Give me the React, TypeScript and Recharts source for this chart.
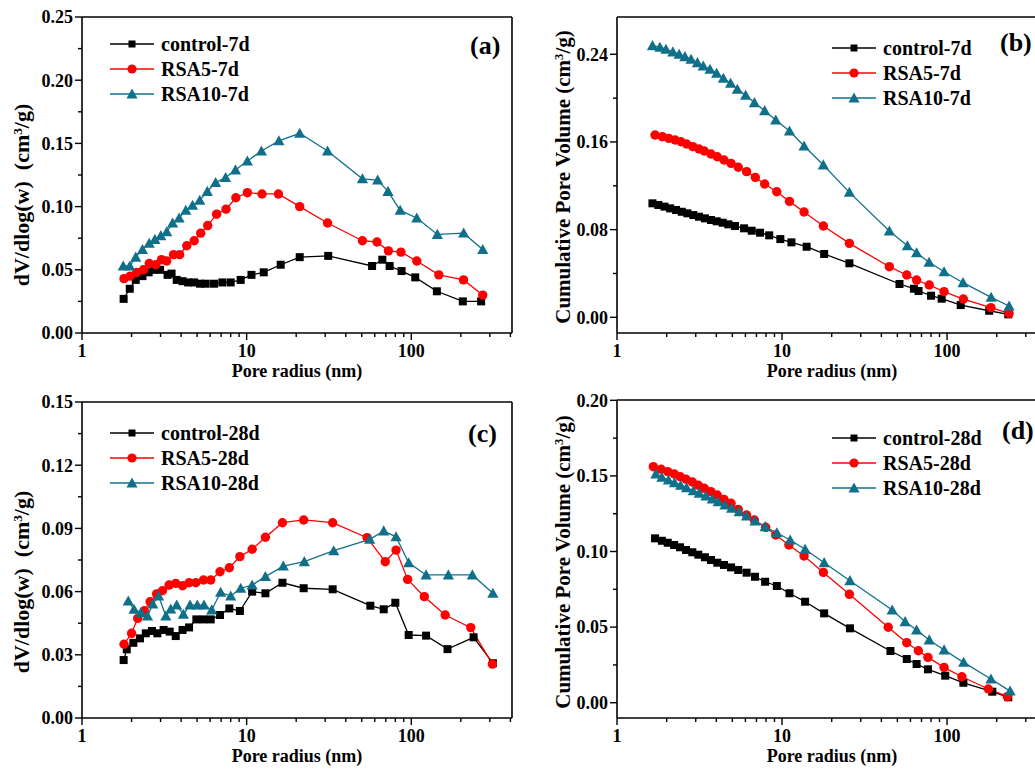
import React from 'react';
import { LineChart, Line, XAxis, YAxis } from 'recharts';

type Pt = [number, number];

// Panel (a): dV/dlog(w), 7 d
const aControl: Pt[] = [[1.79,0.027],[1.95,0.035],[2.12,0.042],[2.33,0.045],[2.54,0.048],[2.74,0.050],[2.98,0.050],[3.31,0.046],[3.5,0.047],[3.76,0.042],[4.08,0.041],[4.41,0.040],[4.8,0.040],[5.21,0.039],[5.64,0.039],[6.34,0.039],[7.12,0.040],[8.0,0.040],[9.2,0.042],[10.7,0.046],[12.7,0.048],[16.1,0.054],[21,0.060],[31.3,0.061],[57.8,0.053],[66.7,0.058],[73.9,0.053],[87.3,0.049],[105.7,0.044],[143,0.033],[205.6,0.025],[265.6,0.025]];
const aRSA5: Pt[] = [[1.8,0.043],[1.96,0.045],[2.15,0.048],[2.36,0.050],[2.56,0.055],[2.81,0.054],[3.04,0.058],[3.27,0.057],[3.6,0.062],[3.92,0.062],[4.33,0.069],[4.8,0.073],[5.26,0.079],[5.8,0.085],[6.57,0.094],[7.5,0.098],[8.6,0.107],[10.1,0.111],[12.4,0.110],[15.6,0.110],[21,0.100],[31,0.087],[50.5,0.073],[61.9,0.072],[72.6,0.065],[86.5,0.064],[108,0.057],[147,0.046],[207.6,0.042],[271.6,0.030]];
const aRSA10: Pt[] = [[1.78,0.053],[1.95,0.053],[2.12,0.060],[2.33,0.066],[2.56,0.071],[2.77,0.074],[3.01,0.077],[3.27,0.080],[3.55,0.087],[3.89,0.091],[4.27,0.097],[4.69,0.101],[5.19,0.105],[5.77,0.112],[6.48,0.119],[7.45,0.123],[8.55,0.129],[10.1,0.136],[12.3,0.144],[15.7,0.152],[21,0.158],[31,0.144],[50.5,0.122],[62.5,0.121],[72.2,0.112],[85.6,0.097],[108,0.091],[144,0.078],[208,0.079],[271.6,0.066]];

// Panel (b): cumulative pore volume, 7 d
const bControl: Pt[] = [[1.64,0.104],[1.78,0.1025],[1.94,0.101],[2.1,0.0994],[2.28,0.0979],[2.47,0.0963],[2.67,0.0949],[2.9,0.0933],[3.14,0.0918],[3.41,0.0903],[3.71,0.0888],[4.02,0.0876],[4.37,0.0863],[4.73,0.0848],[5.19,0.0833],[5.89,0.0812],[6.55,0.079],[7.36,0.0772],[8.36,0.0748],[9.77,0.0714],[11.4,0.0684],[14.1,0.0644],[18,0.0578],[25.6,0.0493],[51.5,0.0304],[63,0.0261],[67.2,0.024],[80,0.0197],[92.8,0.017],[121,0.0112],[180,0.006],[235,0.0027]];
const bRSA5: Pt[] = [[1.70,0.1663],[1.88,0.1648],[2.06,0.1633],[2.25,0.1618],[2.44,0.1602],[2.64,0.1581],[2.88,0.1557],[3.14,0.1536],[3.38,0.1517],[3.71,0.149],[4.05,0.1465],[4.45,0.1435],[4.91,0.1405],[5.43,0.1369],[6.1,0.1329],[6.89,0.1277],[7.85,0.1216],[9.29,0.1146],[11.1,0.1058],[13.6,0.0961],[17.8,0.0833],[25.6,0.0675],[44.7,0.0462],[57,0.0386],[65.4,0.034],[78,0.0295],[95.9,0.0234],[125.6,0.0167],[184.5,0.0088],[237.6,0.0036]];
const bRSA10: Pt[] = [[1.64,0.2478],[1.82,0.2464],[1.98,0.2445],[2.18,0.2421],[2.38,0.24],[2.58,0.2378],[2.81,0.2354],[3.07,0.2323],[3.33,0.2293],[3.66,0.2263],[4.02,0.2226],[4.41,0.2181],[4.88,0.2135],[5.36,0.208],[6.02,0.2026],[6.8,0.1958],[7.85,0.1885],[9.16,0.18],[11.1,0.17],[13.6,0.1563],[17.8,0.139],[25.6,0.114],[44.7,0.0787],[57.5,0.0653],[65.4,0.0589],[77.8,0.0502],[95.9,0.0416],[125,0.0316],[185,0.0182],[237.6,0.0103]];

// Panel (c): dV/dlog(w), 28 d
const cControl: Pt[] = [[1.79,0.0275],[1.87,0.0326],[2.05,0.0357],[2.25,0.0378],[2.44,0.0402],[2.66,0.0413],[2.87,0.0402],[3.13,0.0418],[3.41,0.041],[3.71,0.0389],[4.08,0.0418],[4.47,0.043],[4.95,0.0468],[5.47,0.0468],[6.05,0.0468],[6.89,0.0489],[7.85,0.052],[9.1,0.0508],[10.8,0.06],[13,0.0592],[16.5,0.0642],[22.2,0.0616],[33.3,0.0611],[56.4,0.0533],[68,0.0516],[80,0.0547],[96.4,0.0394],[123,0.0391],[166,0.0327],[239,0.0383],[313,0.026]];
const cRSA5: Pt[] = [[1.8,0.035],[2.0,0.0402],[2.18,0.0473],[2.39,0.0509],[2.59,0.0552],[2.84,0.0589],[3.08,0.0604],[3.38,0.0631],[3.71,0.0639],[4.08,0.0628],[4.47,0.0642],[4.91,0.0642],[5.47,0.0655],[6.05,0.0655],[6.89,0.0694],[7.85,0.0713],[9.1,0.0766],[10.8,0.0801],[13,0.0858],[16.5,0.0927],[22.2,0.094],[33.3,0.0927],[53.9,0.0856],[69.5,0.0742],[80.8,0.0797],[95,0.0658],[120,0.0576],[160.7,0.0489],[229.6,0.0429],[311,0.0256]];
const cRSA10: Pt[] = [[1.91,0.0555],[2.07,0.0516],[2.28,0.05],[2.5,0.0484],[2.69,0.0541],[2.92,0.0579],[3.23,0.0484],[3.46,0.0517],[3.76,0.0536],[4.13,0.0492],[4.53,0.0536],[5.02,0.0536],[5.51,0.0536],[6.14,0.0513],[6.95,0.0597],[8.0,0.0579],[9.2,0.0616],[10.8,0.0631],[13,0.0671],[16.7,0.0721],[22.4,0.0742],[33.8,0.0794],[55.9,0.0848],[68,0.0888],[80.8,0.086],[96.4,0.0737],[123,0.0679],[168,0.0679],[235,0.0679],[313,0.0592]];

// Panel (d): cumulative pore volume, 28 d
const dControl: Pt[] = [[1.70,0.1087],[1.87,0.1071],[2.03,0.1058],[2.22,0.1043],[2.41,0.1028],[2.62,0.101],[2.86,0.0995],[3.11,0.0979],[3.41,0.0962],[3.71,0.0944],[4.05,0.0926],[4.45,0.0911],[4.91,0.0895],[5.43,0.0878],[6.1,0.086],[6.86,0.0833],[7.9,0.08],[9.3,0.0772],[11.1,0.0724],[13.8,0.0668],[18,0.0591],[25.8,0.0492],[45.4,0.0342],[57,0.0289],[65.4,0.0256],[76.6,0.0221],[97.5,0.0179],[125.6,0.0132],[188,0.0073],[235,0.0036]];
const dRSA5: Pt[] = [[1.66,0.1561],[1.85,0.1544],[2.03,0.1528],[2.22,0.1513],[2.41,0.1495],[2.62,0.1478],[2.86,0.146],[3.11,0.1438],[3.38,0.1418],[3.71,0.1396],[4.05,0.1374],[4.45,0.1345],[4.91,0.1319],[5.43,0.1279],[6.1,0.1241],[6.8,0.1208],[7.96,0.116],[9.16,0.1109],[11.0,0.1043],[13.6,0.097],[17.8,0.0862],[25.6,0.0717],[44,0.0499],[57,0.0397],[67,0.0344],[76.6,0.03],[95.9,0.0234],[123,0.0172],[178,0.0091],[232,0.004]];
const dRSA10: Pt[] = [[1.72,0.1513],[1.87,0.1491],[2.05,0.1473],[2.23,0.1455],[2.43,0.1438],[2.64,0.1422],[2.9,0.1402],[3.15,0.1385],[3.46,0.1367],[3.78,0.1347],[4.11,0.1329],[4.51,0.1307],[4.95,0.1286],[5.5,0.1263],[6.1,0.1235],[6.86,0.1202],[7.9,0.1164],[9.3,0.1124],[11.2,0.1076],[13.8,0.1015],[18,0.0926],[25.8,0.0807],[46.5,0.0613],[55.7,0.0536],[65.4,0.0481],[78,0.0415],[96,0.0349],[126,0.0267],[184.5,0.0157],[241,0.0077]];

const xTicks = [1,2,3,4,5,6,7,8,9,10,20,30,40,50,60,70,80,90,100,200,300,400];
const xMajor = [1, 10, 100];
const xDomain: [number, number] = [1, 409];

const FONT = '"Liberation Serif", "Times New Roman", serif';
const BLACK = '#000000';
const RED = '#ff0000';
const TEAL = '#10708a';

const toObj = (pts: Pt[]) => pts.map(([r, v]) => ({ r, v }));

const SquareDot = (p: any) => {
  if (p.cx == null || p.cy == null) return <g key={`s${p.index}`} />;
  return <rect key={`s${p.index}`} x={p.cx - 4} y={p.cy - 4} width={8} height={8} fill={BLACK} />;
};
const CircleDot = (p: any) => {
  if (p.cx == null || p.cy == null) return <g key={`c${p.index}`} />;
  return <circle key={`c${p.index}`} cx={p.cx} cy={p.cy} r={4.7} fill={RED} />;
};
const TriDot = (p: any) => {
  if (p.cx == null || p.cy == null) return <g key={`t${p.index}`} />;
  const s = 5.6;
  return <path key={`t${p.index}`} d={`M${p.cx},${p.cy - s} L${p.cx + s},${p.cy + s * 0.8} L${p.cx - s},${p.cy + s * 0.8} Z`} fill={TEAL} />;
};

const XTick = (p: any) => {
  const v = p.payload.value;
  const major = xMajor.includes(v);
  return (
    <g>
      <line x1={p.x} x2={p.x} y1={p.y} y2={p.y + (major ? 7 : 4)} stroke={BLACK} strokeWidth={1.4} />
      {major && (
        <text x={p.x} y={p.y + 24} textAnchor="middle" fontFamily={FONT} fontWeight="bold" fontSize={18} fill={BLACK}>
          {v}
        </text>
      )}
    </g>
  );
};

const makeYTick = (step: number) => (p: any) => {
  const v = p.payload.value;
  const major = Math.abs(v / step - Math.round(v / step)) < 1e-6;
  return (
    <g>
      <line x1={p.x} x2={p.x - (major ? 7 : 4)} y1={p.y} y2={p.y} stroke={BLACK} strokeWidth={1.4} />
      {major && (
        <text x={p.x - 9} y={p.y} dy="0.35em" textAnchor="end" fontFamily={FONT} fontWeight="bold" fontSize={18} fill={BLACK}>
          {v.toFixed(2)}
        </text>
      )}
    </g>
  );
};

type PanelProps = {
  left: number; top: number; width: number; height: number;
  plot: { top: number; right: number; bottom: number; left: number };
  yDomain: [number, number]; yTicks: number[]; yStep: number;
  series: { data: Pt[]; color: string; dot: (p: any) => any; name: string }[];
};

// plot = distances of the plotting box from the chart edges; axes take 1px each
const Panel = ({ left, top, width, height, plot, yDomain, yTicks, yStep, series }: PanelProps) => (
  <div style={{ position: 'absolute', left, top, width, height }}>
    <LineChart width={width} height={height}
      margin={{ top: plot.top - 1, right: plot.right - 1, bottom: plot.bottom - 1, left: plot.left - 1 }}>
      <XAxis xAxisId="b" dataKey="r" type="number" scale="log" domain={xDomain} allowDataOverflow
        ticks={xTicks} interval={0} tickSize={0} tickMargin={0} tickLine={false} tick={XTick}
        height={1} axisLine={{ stroke: BLACK, strokeWidth: 1.6 }} />
      <XAxis xAxisId="t" orientation="top" type="number" scale="log" domain={xDomain} allowDataOverflow
        tick={false} tickLine={false} height={1} axisLine={{ stroke: BLACK, strokeWidth: 1.6 }} />
      <YAxis yAxisId="l" type="number" domain={yDomain} allowDataOverflow ticks={yTicks} interval={0}
        tickSize={0} tickMargin={0} tickLine={false} tick={makeYTick(yStep)} width={1}
        axisLine={{ stroke: BLACK, strokeWidth: 1.6 }} />
      <YAxis yAxisId="r" orientation="right" type="number" domain={yDomain} allowDataOverflow
        tick={false} tickLine={false} width={1} axisLine={{ stroke: BLACK, strokeWidth: 1.6 }} />
      {series.map((s) => (
        <Line key={s.name} xAxisId="b" yAxisId="l" data={toObj(s.data)} dataKey="v" name={s.name}
          type="linear" stroke={s.color} strokeWidth={1.3} dot={s.dot} activeDot={false}
          isAnimationActive={false} />
      ))}
    </LineChart>
  </div>
);

const range = (a: number, b: number, step: number) => {
  const out: number[] = [];
  for (let i = 0; a + i * step <= b + 1e-9; i++) out.push(+(a + i * step).toFixed(4));
  return out;
};

const LegendBlock = ({ x, y, labels }: { x: number; y: number; labels: string[] }) => {
  const kinds = [
    { c: BLACK, d: (cx: number, cy: number) => <rect x={cx - 3.5} y={cy - 3.5} width={7} height={7} fill={BLACK} /> },
    { c: RED, d: (cx: number, cy: number) => <circle cx={cx} cy={cy} r={4.6} fill={RED} /> },
    { c: TEAL, d: (cx: number, cy: number) => <path d={`M${cx},${cy - 5.5} L${cx + 5.5},${cy + 4.4} L${cx - 5.5},${cy + 4.4} Z`} fill={TEAL} /> },
  ];
  return (
    <g>
      {labels.map((lab, i) => {
        const cy = y + i * 25;
        return (
          <g key={lab}>
            <line x1={x} x2={x + 44} y1={cy} y2={cy} stroke={kinds[i].c} strokeWidth={1.5} />
            {kinds[i].d(x + 22, cy)}
            <text x={x + 51} y={cy} dy="0.35em" fontFamily={FONT} fontWeight="bold" fontSize={20} fill={BLACK}>{lab}</text>
          </g>
        );
      })}
    </g>
  );
};

const YTitle = ({ x, y, text, size }: { x: number; y: number; text: string; size: number }) => (
  <text x={x} y={y} transform={`rotate(-90 ${x} ${y})`} textAnchor="middle" dy="0.35em"
    fontFamily={FONT} fontWeight="bold" fontSize={size} fill={BLACK} style={{ whiteSpace: 'pre' }}>
    {text}(cm<tspan baselineShift="super" fontSize={size * 0.6}>3</tspan>/g)
  </text>
);

const XTitle = ({ x, y }: { x: number; y: number }) => (
  <text x={x} y={y} textAnchor="middle" fontFamily={FONT} fontWeight="bold" fontSize={18} fill={BLACK}>
    Pore radius (nm)
  </text>
);

const PanelLabel = ({ x, y, t }: { x: number; y: number; t: string }) => (
  <text x={x} y={y} dy="0.35em" fontFamily={FONT} fontWeight="bold" fontSize={26} fill={BLACK}>{t}</text>
);

export default function App() {
  const diffSeries = (c: Pt[], r5: Pt[], r10: Pt[], suf: string) => [
    { data: c, color: BLACK, dot: SquareDot, name: `control-${suf}` },
    { data: r5, color: RED, dot: CircleDot, name: `RSA5-${suf}` },
    { data: r10, color: TEAL, dot: TriDot, name: `RSA10-${suf}` },
  ];
  return (
    <div style={{ position: 'absolute', left: 0, top: 0, width: 1035, height: 769, overflow: 'hidden', background: '#fff' }}>
      <Panel left={0} top={0} width={540} height={385}
        plot={{ top: 17, right: 28, bottom: 52, left: 82 }}
        yDomain={[0, 0.25]} yTicks={range(0, 0.25, 0.025)} yStep={0.05}
        series={diffSeries(aControl, aRSA5, aRSA10, '7d')} />
      <Panel left={540} top={0} width={540} height={385}
        plot={{ top: 17, right: 32, bottom: 52, left: 77 }}
        yDomain={[-0.0143, 0.274]} yTicks={range(0, 0.24, 0.04)} yStep={0.08}
        series={diffSeries(bControl, bRSA5, bRSA10, '7d')} />
      <Panel left={0} top={385} width={540} height={384}
        plot={{ top: 17, right: 28, bottom: 51, left: 82 }}
        yDomain={[0, 0.15]} yTicks={range(0, 0.15, 0.015)} yStep={0.03}
        series={diffSeries(cControl, cRSA5, cRSA10, '28d')} />
      <Panel left={540} top={385} width={540} height={384}
        plot={{ top: 15, right: 32, bottom: 51, left: 77 }}
        yDomain={[-0.0101, 0.2002]} yTicks={range(0, 0.2, 0.025)} yStep={0.05}
        series={diffSeries(dControl, dRSA5, dRSA10, '28d')} />
      <svg width={1035} height={769} style={{ position: 'absolute', left: 0, top: 0, pointerEvents: 'none' }}>
        <LegendBlock x={110} y={44} labels={['control-7d', 'RSA5-7d', 'RSA10-7d']} />
        <LegendBlock x={832} y={48} labels={['control-7d', 'RSA5-7d', 'RSA10-7d']} />
        <LegendBlock x={110} y={433} labels={['control-28d', 'RSA5-28d', 'RSA10-28d']} />
        <LegendBlock x={832} y={438} labels={['control-28d', 'RSA5-28d', 'RSA10-28d']} />
        <PanelLabel x={470} y={45} t="(a)" />
        <PanelLabel x={1000} y={42} t="(b)" />
        <PanelLabel x={468} y={433} t="(c)" />
        <PanelLabel x={1002} y={430} t="(d)" />
        <XTitle x={297} y={377} />
        <XTitle x={832} y={377} />
        <XTitle x={297} y={762} />
        <XTitle x={832} y={762} />
        <YTitle x={21} y={195} size={22} text="dV/dlog(w)  " />
        <YTitle x={563} y={177} size={21} text="Cumulative Pore Volume " />
        <YTitle x={21} y={582} size={22} text="dV/dlog(w)  " />
        <YTitle x={563} y={562} size={21} text="Cumulative Pore Volume " />
      </svg>
    </div>
  );
}
